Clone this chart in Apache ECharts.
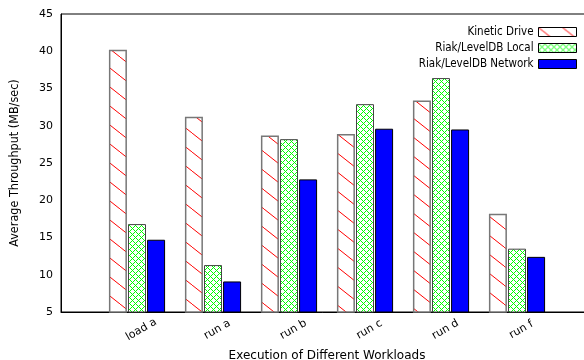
<!DOCTYPE html>
<html><head><meta charset="utf-8">
<script src="https://cdn.jsdelivr.net/npm/echarts@6/dist/echarts.min.js"></script>
<style>html,body{margin:0;padding:0;background:#fff}#c{width:584px;height:360px}</style>
</head><body><div id="c"></div>
<script>
const categories = ['', 'load a', 'run a', 'run b', 'run c', 'run d', 'run f', ''];
const kinetic = [null, 40.2, 31.2, 28.7, 28.9, 33.4, 18.2, null];
const riakLocal = [null, 16.8, 11.3, 28.2, 32.9, 36.4, 13.5, null];
const riakNetwork = [null, 14.7, 9.1, 22.8, 29.6, 29.5, 12.4, null];
const seriesNames = ['Kinetic Drive', 'Riak/LevelDB Local', 'Riak/LevelDB Network'];

function hatch() {
  const c = document.createElement('canvas'); c.width = 24; c.height = 19;
  const g = c.getContext('2d');
  g.fillStyle = '#fff'; g.fillRect(0, 0, 24, 19);
  g.strokeStyle = '#ff0000'; g.lineWidth = 1;
  g.beginPath(); g.moveTo(0, 0); g.lineTo(24, 19); g.stroke();
  return c;
}
function cross() {
  const n = 6;
  const c = document.createElement('canvas'); c.width = n; c.height = n;
  const g = c.getContext('2d');
  g.fillStyle = '#fff'; g.fillRect(0, 0, n, n);
  g.fillStyle = '#00ff00';
  for (let i = 0; i < n; i++) { g.fillRect(i, i, 1, 1); g.fillRect((n - i) % n, i, 1, 1); }
  return c;
}
const hatchPat = {image: hatch(), repeat: 'repeat'};
const crossPat = {image: cross(), repeat: 'repeat'};
const font = 'DejaVu Sans';
const condensed = '"DejaVu Sans Condensed", "DejaVu Sans"';
const chart = echarts.init(document.getElementById('c'), null, {renderer: 'canvas'});
chart.setOption({
  animation: false,
  textStyle: {fontFamily: font},
  grid: {left: 61, top: 14, width: 532, height: 298, show: true, borderColor: '#000', borderWidth: 1, containLabel: false, outerBoundsMode: 'none'},
  legend: {
    right: 2, top: 21, orient: 'vertical', align: 'right', itemWidth: 38, itemHeight: 9, itemGap: 4, icon: 'rect',
    textStyle: {fontFamily: condensed, fontSize: 11.5, color: '#000'},
    data: [
      {name: seriesNames[0], itemStyle: {color: hatchPat, borderColor: '#000', borderWidth: 1}},
      {name: seriesNames[1], itemStyle: {color: crossPat, borderColor: '#000', borderWidth: 1}},
      {name: seriesNames[2], itemStyle: {color: '#0000ff', borderColor: '#000', borderWidth: 1}}
    ]
  },
  xAxis: {
    type: 'category', data: categories, boundaryGap: false,
    axisLine: {lineStyle: {color: '#000'}}, axisTick: {show: false},
    axisLabel: {rotate: 30, align: 'center', margin: 20, padding: [0, 0, 0, 10], interval: 0, fontSize: 11, color: '#000', fontFamily: font},
    name: 'Execution of Different Workloads', nameLocation: 'middle', nameGap: 38,
    nameTextStyle: {fontSize: 12, color: '#000', fontFamily: font}
  },
  yAxis: {
    type: 'value', min: 5, max: 45, interval: 5,
    axisLine: {show: true, lineStyle: {color: '#000'}}, axisTick: {show: false}, splitLine: {show: false},
    axisLabel: {fontSize: 11, color: '#000', margin: 8, fontFamily: font},
    name: 'Average Throughput (MB/sec)', nameLocation: 'middle', nameGap: 40,
    nameTextStyle: {fontSize: 12.5, color: '#000', fontFamily: condensed}
  },
  series: [
    {name: seriesNames[0], type: 'bar', data: kinetic, barWidth: 18, barGap: '6%',
     itemStyle: {color: hatchPat, borderColor: '#777', borderWidth: 1.5}},
    {name: seriesNames[1], type: 'bar', data: riakLocal, barWidth: 18, barGap: '6%',
     itemStyle: {color: crossPat, borderColor: '#444', borderWidth: 1}},
    {name: seriesNames[2], type: 'bar', data: riakNetwork, barWidth: 18, barGap: '6%',
     itemStyle: {color: '#0000ff', borderColor: '#000', borderWidth: 1}}
  ]
});
</script></body></html>
